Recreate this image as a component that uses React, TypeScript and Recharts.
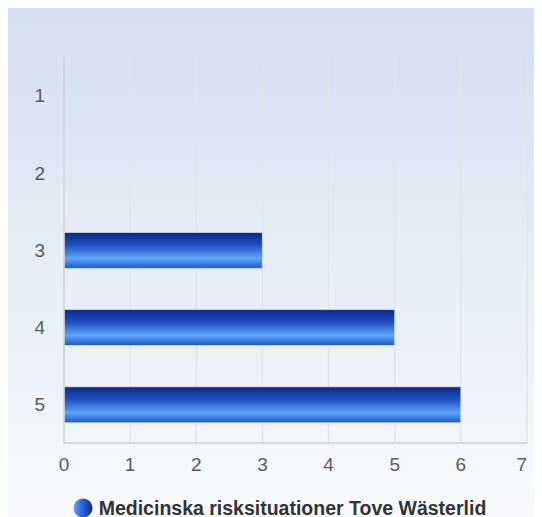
import React from 'react';
import { BarChart, Bar, XAxis, YAxis, CartesianGrid, Legend } from 'recharts';

const categories = ['1', '2', '3', '4', '5'];
const seriesValues = [0, 0, 3, 5, 6];
const xTicks = [0, 1, 2, 3, 4, 5, 6, 7];
const seriesName = 'Medicinska risksituationer Tove Wästerlid';

const data = categories.map((c, i) => ({ name: c, value: seriesValues[i] }));

const FONT = '"Liberation Sans", Arial, sans-serif';

const XTick = (props: any) => {
  const { x, y, payload, index } = props;
  const last = index === xTicks.length - 1;
  return (
    <text x={x} y={y} dy="0.71em" textAnchor={last ? 'end' : 'middle'} fill="#5a5a5a" fontSize={19} fontFamily={FONT}>
      {payload.value}
    </text>
  );
};

const LegendContent = () => (
  <div style={{ height: 39, paddingTop: 21, paddingLeft: 24, boxSizing: 'border-box', display: 'flex', justifyContent: 'center', alignItems: 'center', fontFamily: FONT }}>
    <svg width={20} height={20} style={{ marginRight: 6 }}>
      <defs>
        <linearGradient id="legGrad" x1="0" y1="0" x2="1" y2="0">
          <stop offset="0%" stopColor="#5ea6ff" />
          <stop offset="45%" stopColor="#2a66d6" />
          <stop offset="100%" stopColor="#0b2d8a" />
        </linearGradient>
      </defs>
      <circle cx={10} cy={10} r={9.5} fill="url(#legGrad)" />
    </svg>
    <span style={{ fontWeight: 'bold', fontSize: 19.5, color: '#333333', whiteSpace: 'nowrap' }}>{seriesName}</span>
  </div>
);

export default function App() {
  return (
    <div style={{ width: 534, height: 509, background: 'linear-gradient(to bottom, #d3dff0 0%, #e6edf6 50%, #f8fafd 100%)' }}>
      <BarChart width={534} height={509} data={data} layout="vertical" margin={{ top: 49, right: 15, left: 0, bottom: 0 }} barCategoryGap={0}>
        <defs>
          <linearGradient id="barGrad" x1="0" y1="0" x2="0" y2="1">
            <stop offset="0%" stopColor="#08298a" />
            <stop offset="35%" stopColor="#1f50c0" />
            <stop offset="72%" stopColor="#5ca4fc" />
            <stop offset="100%" stopColor="#1c58c8" />
          </linearGradient>
        </defs>
        <CartesianGrid horizontal={false} stroke="#e1e5eb" strokeWidth={1.5} />
        <XAxis
          type="number"
          domain={[0, 7]}
          ticks={xTicks}
          interval={0}
          tickLine={false}
          tickSize={0}
          tickMargin={15}
          height={35}
          axisLine={{ stroke: '#cdd2d8', strokeWidth: 1.5 }}
          tick={<XTick />}
        />
        <XAxis
          xAxisId="top"
          orientation="top"
          type="number"
          domain={[0, 7]}
          tick={false}
          tickLine={false}
          height={0}
          axisLine={{ stroke: '#cdd2d8', strokeWidth: 1.5 }}
        />
        <YAxis
          type="category"
          dataKey="name"
          width={56}
          tickLine={false}
          tickSize={0}
          tickMargin={19}
          axisLine={{ stroke: '#cdd2d8', strokeWidth: 1.5 }}
          tick={{ fill: '#5a5a5a', fontSize: 19, fontFamily: FONT }}
        />
        <Legend verticalAlign="bottom" content={<LegendContent />} />
        <Bar dataKey="value" name={seriesName} barSize={36} fill="url(#barGrad)" stroke="#ffffff" strokeOpacity={0.6} strokeWidth={1} isAnimationActive={false} />
      </BarChart>
    </div>
  );
}
